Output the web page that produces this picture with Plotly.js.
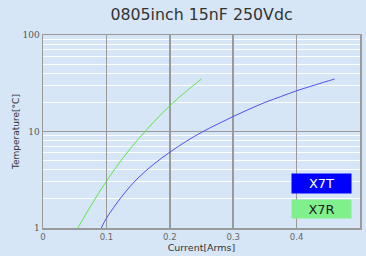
<!DOCTYPE html>
<html>
<head>
<meta charset="utf-8">
<script src="https://cdn.plot.ly/plotly-3.0.1.min.js"></script>
<style>html,body{margin:0;padding:0;background:rgb(214,230,246);}</style>
</head>
<body>
<div id="chart" style="width:366px;height:256px;"></div>
<script>
const titleText = "0805inch 15nF 250Vdc";
const xTitle = "Current[Arms]";
const yTitle = "Temperature[\u00b0C]";
const seriesNames = ["X7T", "X7R"];

const x7tCurrent = [0.092, 0.1, 0.125, 0.15, 0.175, 0.2, 0.225, 0.25, 0.275, 0.3, 0.325, 0.35, 0.375, 0.4, 0.43, 0.46];
const x7tTemp    = [1, 1.26, 2.15, 3.3, 4.6, 6.1, 7.85, 9.8, 11.9, 14.3, 17, 20, 23, 26.4, 30.5, 35];

const x7rCurrent = [0.055, 0.075, 0.1, 0.125, 0.15, 0.175, 0.2, 0.225, 0.25];
const x7rTemp    = [1, 1.68, 3.05, 5.2, 8.3, 12.6, 18.5, 25.8, 35];

const xTickVals = [0, 0.1, 0.2, 0.3, 0.4, 0.5];
const xTickText = ["0", "0.1", "0.2", "0.3", "0.4", "0.5"];
const yTickVals = [1, 10, 100];
const yTickText = ["1", "10", "100"];

const bg = "rgb(214,230,246)";
const font = "DejaVu Sans, Verdana, sans-serif";
const serif = "DejaVu Serif, serif";

const traces = [
  {x: x7tCurrent, y: x7tTemp, name: seriesNames[0], mode: "lines",
   line: {color: "rgb(80,80,240)", width: 1, shape: "spline", smoothing: 1}},
  {x: x7rCurrent, y: x7rTemp, name: seriesNames[1], mode: "lines",
   line: {color: "rgb(90,230,70)", width: 1, shape: "spline", smoothing: 1}}
];

const layout = {
  width: 366, height: 256,
  margin: {l: 43, r: 6, t: 35, b: 28},
  paper_bgcolor: bg, plot_bgcolor: bg,
  showlegend: false,
  font: {family: font, size: 9, color: "#555"},
  title: {text: titleText, x: 0.5, xref: "paper", xanchor: "center",
          y: 1 - 14 / 256, yref: "container", yanchor: "middle",
          font: {family: font, size: 15.8, color: "#333"}},
  xaxis: {
    range: [0, 0.5], tickvals: xTickVals, ticktext: xTickText,
    showgrid: true, gridcolor: "#9a9a9a", gridwidth: 1.5,
    showline: true, mirror: true, linecolor: "#9a9a9a", linewidth: 1.5,
    ticks: "", zeroline: false,
    tickfont: {family: font, size: 8.5, color: "#666"},
    title: {text: xTitle, font: {family: font, size: 9.5, color: "#333"}, standoff: 3}
  },
  yaxis: {
    type: "log", range: [0, 2], tickvals: yTickVals, ticktext: yTickText,
    showgrid: true, gridcolor: "#9a9a9a", gridwidth: 1.5,
    showline: true, mirror: true, linecolor: "#9a9a9a", linewidth: 1.5,
    ticks: "", ticklabelstandoff: 0, zeroline: false,
    tickfont: {family: serif, size: 9, color: "#555"},
    minor: {dtick: "D1", showgrid: true, gridcolor: "rgba(255,255,255,0.9)", gridwidth: 1, ticks: ""},
    title: {text: yTitle, font: {family: font, size: 9, color: "#333"}, standoff: 1}
  },
  annotations: [
    {xref: "paper", yref: "paper", x: (321.5 - 43) / 317, y: (228 - 183.5) / 193,
     xanchor: "center", yanchor: "middle", text: seriesNames[0],
     showarrow: false, bgcolor: "rgb(0,0,255)", width: 59, height: 19, borderpad: 0,
     font: {family: font, size: 13, color: "white"}},
    {xref: "paper", yref: "paper", x: (321.5 - 43) / 317, y: (228 - 208.5) / 193,
     xanchor: "center", yanchor: "middle", text: seriesNames[1],
     showarrow: false, bgcolor: "rgb(128,240,140)", width: 59, height: 18, borderpad: 0,
     font: {family: font, size: 13, color: "#222"}}
  ]
};

Plotly.newPlot("chart", traces, layout, {displayModeBar: false, staticPlot: true});
</script>
</body>
</html>
